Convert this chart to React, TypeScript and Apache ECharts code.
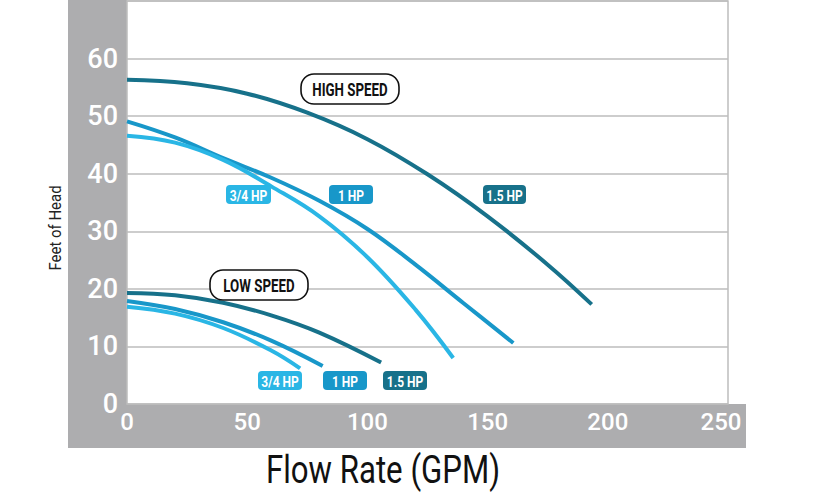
import React, { useEffect, useRef } from "react";
import * as echarts from "echarts";

// ---- data ----
const xTicks = [0, 50, 100, 150, 200, 250];
const yTicks = [0, 10, 20, 30, 40, 50, 60, 70];

const highQ15 = [0, 25, 50, 75, 100, 125, 150, 175, 193.3];
const highH15 = [56.3, 55.7, 53.9, 50.6, 46.0, 39.9, 32.6, 24.2, 17.3];

const highQ10 = [0, 20, 40, 60, 80, 100, 120, 140, 160.7];
const highH10 = [49.1, 46.3, 42.7, 39.3, 35.3, 30.4, 24.2, 17.5, 10.6];

const highQ075 = [0, 20, 40, 60, 80, 100, 120, 135.7];
const highH075 = [46.6, 45.4, 42.4, 37.8, 32.6, 25.5, 16.4, 8.0];

const lowQ15 = [0, 20, 40, 60, 80, 105.7];
const lowH15 = [19.3, 18.9, 17.6, 15.4, 12.4, 7.2];

const lowQ10 = [0, 20, 40, 60, 81.4];
const lowH10 = [17.9, 16.5, 14.2, 11.0, 6.6];

const lowQ075 = [0, 20, 40, 60, 72];
const lowH075 = [16.9, 15.7, 13.2, 9.3, 6.2];

const speedLabels = ["HIGH SPEED", "LOW SPEED"];
const hpLabels = ["3/4 HP", "1 HP", "1.5 HP"];

const C15 = "#17718A";
const C10 = "#1897C9";
const C075 = "#2AB6E5";
const FONT = "Roboto, 'Noto Sans', sans-serif";

const zip = (a: number[], b: number[]) => a.map((v, i) => [v, b[i]]);

export default function App() {
  const ref = useRef<HTMLDivElement>(null);
  useEffect(() => {
    if (!ref.current) return;
    const chart = echarts.init(ref.current, null, { renderer: "svg" });
    const mkLine = (name: string, q: number[], h: number[], color: string) => ({
      name,
      type: "line",
      data: zip(q, h),
      smooth: 0.4,
      showSymbol: false,
      symbol: "none",
      lineStyle: { color, width: 4, cap: "butt" },
      z: 3,
    });
    const hpBox = (x: number, y: number, w: number, text: string, color: string) => ({
      type: "group",
      children: [
        { type: "rect", shape: { x, y, width: w, height: 19, r: 4 }, style: { fill: color }, z: 20 },
        {
          type: "text",
          x: x + w / 2,
          y: y + 10,
          scaleX: 0.8,
          style: { text, fill: "#fff", font: `bold 15px ${FONT}`, align: "center", verticalAlign: "middle" },
          z: 21,
        },
      ],
    });
    const speedBox = (x: number, y: number, w: number, h: number, text: string) => ({
      type: "group",
      children: [
        { type: "rect", shape: { x, y, width: w, height: h, r: 13 }, style: { fill: "#fff", stroke: "#111", lineWidth: 1.6 }, z: 20 },
        {
          type: "text",
          x: x + w / 2,
          y: y + h / 2 + 1,
          scaleX: 0.74,
          style: { text, fill: "#111", font: `bold 18px ${FONT}`, align: "center", verticalAlign: "middle" },
          z: 21,
        },
      ],
    });
    const lastX = xTicks[xTicks.length - 1];
    chart.setOption({
      animation: false,
      backgroundColor: "#fff",
      grid: {
        left: 127,
        right: 95,
        top: 1,
        bottom: 100,
        show: true,
        backgroundColor: "#fff",
        borderColor: "#BDBDBD",
        borderWidth: 1.5,
      },
      xAxis: {
        type: "value",
        min: xTicks[0],
        max: lastX,
        interval: 50,
        axisLine: { show: false },
        axisTick: { show: false },
        splitLine: { show: false },
        axisLabel: {
          color: "#fff",
          fontSize: 24,
          fontWeight: 500,
          fontFamily: FONT,
          margin: 6,
          formatter: (v: number) => (v === lastX ? `{last|${v}}` : String(v)),
          rich: {
            last: { color: "#fff", fontSize: 24, fontWeight: 500, fontFamily: FONT, padding: [0, 14, 0, 0] },
          },
        },
      },
      yAxis: {
        type: "value",
        min: yTicks[0],
        max: yTicks[yTicks.length - 1],
        interval: 10,
        axisLine: { show: false },
        axisTick: { show: false },
        splitLine: { show: true, lineStyle: { color: "#BDBDBD", width: 1.5 } },
        axisLabel: {
          color: "#fff",
          fontSize: 27,
          fontWeight: 500,
          fontFamily: FONT,
          margin: 9,
          formatter: (v: number) => (v === 70 ? "" : String(v)),
          verticalAlign: "middle",
          padding: [0, 0, 4, 0],
        },
      },
      series: [
        mkLine("High 1.5 HP", highQ15, highH15, C15),
        mkLine("High 1 HP", highQ10, highH10, C10),
        mkLine("High 3/4 HP", highQ075, highH075, C075),
        mkLine("Low 1.5 HP", lowQ15, lowH15, C15),
        mkLine("Low 1 HP", lowQ10, lowH10, C10),
        mkLine("Low 3/4 HP", lowQ075, lowH075, C075),
      ],
      graphic: [
        { type: "rect", shape: { x: 68, y: 0, width: 59, height: 448 }, style: { fill: "#ADADAF" }, z: -10, silent: true },
        { type: "rect", shape: { x: 68, y: 404, width: 678, height: 44 }, style: { fill: "#ADADAF" }, z: -10, silent: true },
        {
          type: "text",
          x: 55,
          y: 228,
          rotation: Math.PI / 2,
          scaleX: 0.88,
          style: { text: "Feet of Head", fill: "#222", font: `17px ${FONT}`, align: "center", verticalAlign: "middle" },
        },
        {
          type: "text",
          x: 383,
          y: 470,
          scaleX: 0.8,
          style: { text: "Flow Rate (GPM)", fill: "#111", font: `39px ${FONT}`, align: "center", verticalAlign: "middle" },
        },
        speedBox(301, 74, 98, 30, speedLabels[0]),
        speedBox(210, 270, 98, 30, speedLabels[1]),
        hpBox(226, 185, 45, hpLabels[0], C075),
        hpBox(329, 185, 44, hpLabels[1], C10),
        hpBox(483, 185, 43, hpLabels[2], C15),
        hpBox(258, 371, 44, hpLabels[0], C075),
        hpBox(323, 371, 44, hpLabels[1], C10),
        hpBox(383, 371, 44, hpLabels[2], C15),
      ],
    });
    return () => chart.dispose();
  }, []);
  return <div ref={ref} style={{ position: "fixed", left: 0, top: 0, width: 823, height: 504 }} />;
}
